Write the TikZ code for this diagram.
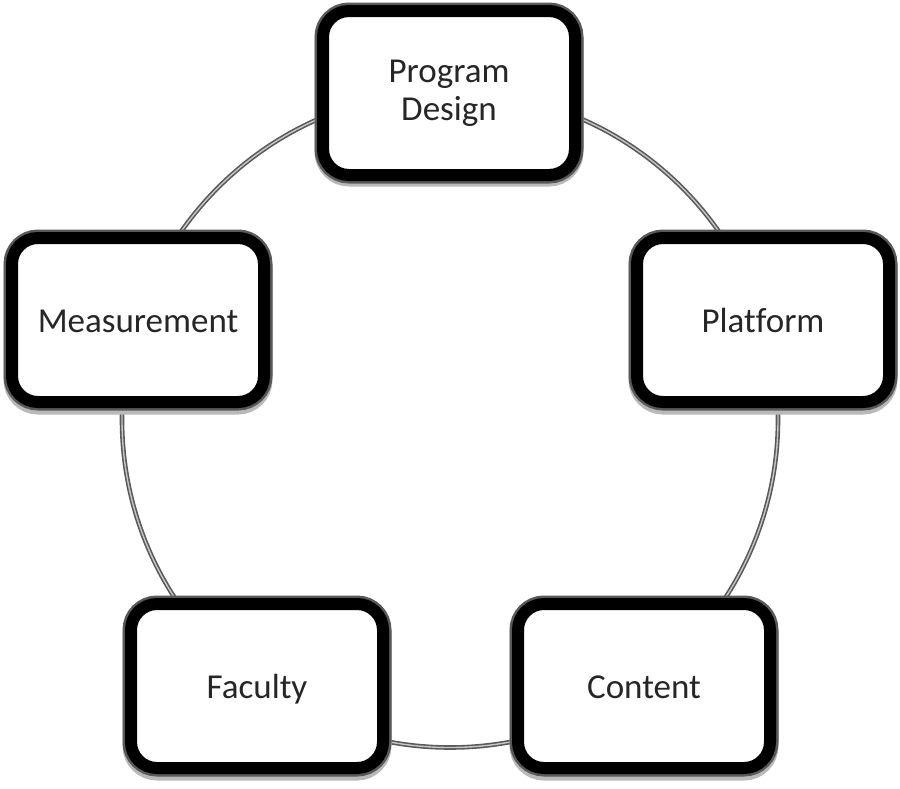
\documentclass[tikz,border=0pt]{standalone}
\usepackage{fontspec}
\setmainfont{Carlito}[Ligatures=NoCommon]
\begin{document}
\begin{tikzpicture}[x=1pt,y=-1pt,
  ring/.style={draw=gray!70!black, line width=1.6pt, double=gray!45, double distance=1.4pt},
  box/.style={rectangle, rounded corners=26pt, minimum width=252pt, minimum height=164pt,
    outer sep=0pt, inner sep=0pt, fill=white, draw=black, line width=12pt, align=center,
    font=\fontsize{35}{38}\selectfont, text=black!85,
    preaction={draw=gray!70!black, line width=17pt}},
  oneline/.style={text height=24pt, text depth=0pt},
  shadowbox/.style={draw=gray!55, line width=17pt, rounded corners=26pt}
]
\useasboundingbox (0,0) rectangle (900,788);
\coordinate (c) at (450,419.5);
\draw[ring] (c) circle[radius=328];
% shadows
\foreach \x/\y in {449/92, 138/320, 763/320, 257/686, 644/686}{
  \draw[shadowbox] (\x-126,\y-82+4) rectangle (\x+126,\y+82+4);
}
\node[box] (pd) at (449,93) {Program\\Design};
\node[box, oneline] (me) at (138,320) {Measurement};
\node[box, oneline] (pl) at (763,320) {Platform};
\node[box, oneline] (fa) at (257,686) {Faculty};
\node[box, oneline] (co) at (644,686) {Content};
\end{tikzpicture}
\end{document}
